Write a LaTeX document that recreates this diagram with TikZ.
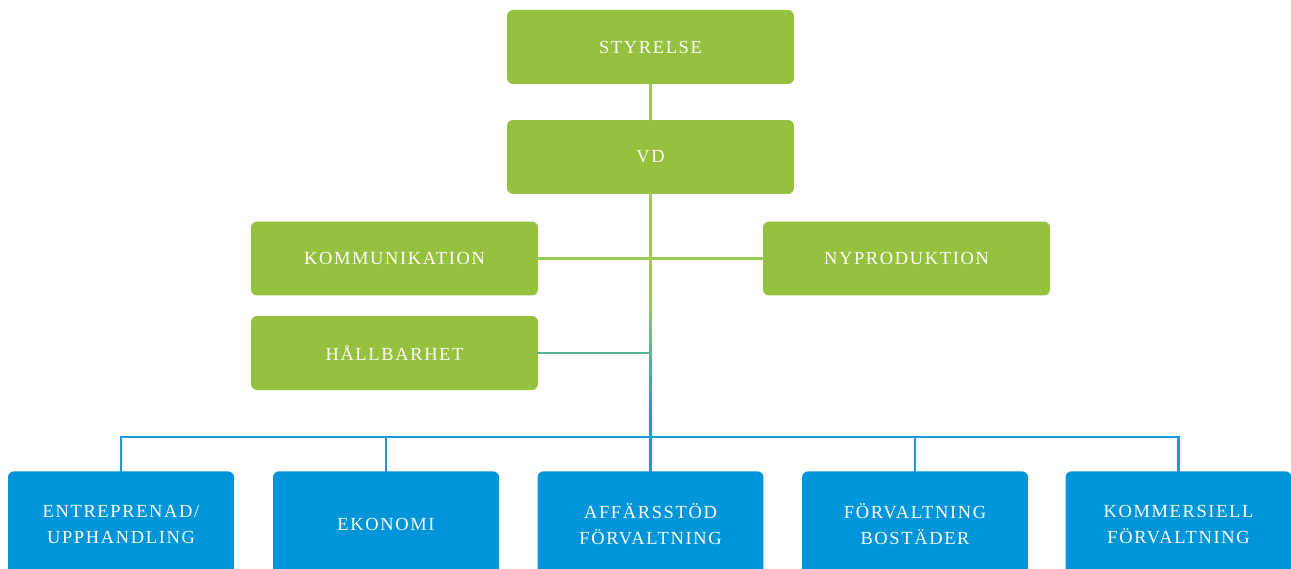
\documentclass[tikz,border=0pt]{standalone}
\usepackage{fontspec}
\usepackage{tikz}
\newfontfamily\orgfont[LetterSpace=9]{Liberation Serif}
\definecolor{leaf}{HTML}{96C13F}
\definecolor{leafline}{HTML}{9CCB55}
\definecolor{sea}{HTML}{0094D8}
\definecolor{sealine}{HTML}{1C9AD6}
\usetikzlibrary{positioning, calc}
\tikzset{
  every picture/.style={line cap=rect, line join=miter},
  unit/.style={
    rounded corners=3.4pt,
    text=white,
    align=center,
    inner sep=0pt,
    font=\orgfont\fontsize{10.5}{14.6}\selectfont
  },
  board/.style={unit, fill=leaf, minimum width=5.74cm, minimum height=1.48cm},
  dept/.style={unit, fill=sea, minimum width=4.52cm, minimum height=2.12cm},
  greenlink/.style={draw=leafline, line width=1.2pt},
  bluelink/.style={draw=sealine, line width=1.2pt}
}

\begin{document}
\begin{tikzpicture}[x=0.02cm, y=-0.02cm]
  \useasboundingbox (0,0) rectangle (1291,568);
  \clip (0,0) rectangle (1291,568);

  % Management (green)
  \node[board] (styrelse) at (650.5,47) {STYRELSE};
  \node[board] (vd) at (650.5,157) {VD};
  \node[board] (komm) at (394.5,258.5) {KOMMUNIKATION};
  \node[board] (nyprod) at (906.5,258.5) {NYPRODUKTION};
  \node[board] (hall) at (394.5,353) {HÅLLBARHET};

  % Departments (blue)
  \node[dept, anchor=north] (entr) at (121,471) {ENTREPRENAD/\\UPPHANDLING};
  \node[dept, anchor=north] (eko) at (386,471) {EKONOMI};
  \node[dept, anchor=north] (aff) at (650.5,471) {AFFÄRSSTÖD\\FÖRVALTNING};
  \node[dept, anchor=north] (forv) at (915,471) {FÖRVALTNING\\BOSTÄDER};
  \node[dept, anchor=north] (komf) at (1178.5,471) {KOMMERSIELL\\FÖRVALTNING};

  % Trunk points
  \coordinate (fade) at (vd.south |- 0,295);
  \coordinate (hmid) at (vd.south |- hall.east);
  \coordinate (blue) at (vd.south |- 0,415);
  \coordinate (bus) at (vd.south |- 0,437);

  % Green part
  \draw[greenlink] (styrelse) -- (vd);
  \draw[greenlink] (vd.south) -- (fade);
  \draw[greenlink] (komm.east) -- (nyprod.west);
  \draw[draw=leafline!50!sealine, line width=1.2pt] (hall.east) -- (hmid);

  % Fade from green to blue
  \shade[top color=leafline, bottom color=sealine]
    ($(fade)+(-1.05,0)$) rectangle ($(blue)+(1.05,0)$);

  % Blue part
  \draw[bluelink] (blue) -- (aff.north);
  \draw[bluelink] (entr.north) |- (bus) -| (komf.north);
  \draw[bluelink] (eko.north) -- (eko.north |- bus);
  \draw[bluelink] (forv.north) -- (forv.north |- bus);
\end{tikzpicture}
\end{document}
